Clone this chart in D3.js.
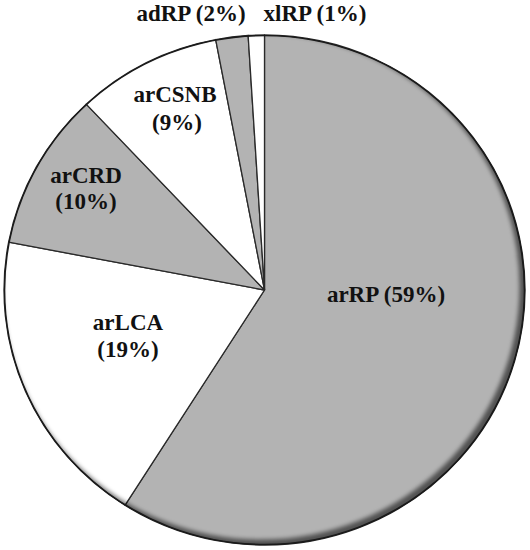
<!DOCTYPE html>
<html><head><meta charset="utf-8">
<script src="https://cdn.jsdelivr.net/npm/d3@7"></script>
<style>body{margin:0;background:#fff}svg{display:block}</style>
</head><body>
<svg id="c" width="530" height="550"></svg>
<script>
const categories = ["arRP","arLCA","arCRD","arCSNB","adRP","xlRP"];
const values = [59,19,10,9,2,1];
const fills = ["#b3b3b3","#ffffff","#b3b3b3","#ffffff","#b3b3b3","#ffffff"];

const W=530,H=550, cx=264.5, cy=290, r=260.5, sy=255/260.5;
const svg=d3.select("#c");
const defs=svg.append("defs");
defs.append("clipPath").attr("id","pieclip").append("circle").attr("r",r);
const f=defs.append("filter").attr("id","blur").attr("x","-20%").attr("y","-20%").attr("width","140%").attr("height","140%");
f.append("feGaussianBlur").attr("stdDeviation",2.2);

const pie=d3.pie().sort(null).value(d=>d.v);
const arcs=pie(categories.map((c,i)=>({c,v:values[i],f:fills[i]})));
const arc=d3.arc().innerRadius(0).outerRadius(r);
const g=svg.append("g").attr("transform",`translate(${cx},${cy}) scale(1,${sy})`);
g.selectAll("path.s").data(arcs).join("path").attr("class","s")
  .attr("d",arc).attr("fill",d=>d.data.f)
  .attr("stroke","#2a2a2a").attr("stroke-width",1.3).attr("stroke-linejoin","round");
// inner shadow on lower-right edge
const sh=g.append("g").attr("clip-path","url(#pieclip)");
sh.append("path").attr("fill","#000").attr("fill-opacity",0.55).attr("fill-rule","evenodd")
  .attr("filter","url(#blur)")
  .attr("d",`M${-r-40},${-r-40}H${r+40}V${r+40}H${-r-40}Z `+
            `M${-3.5-r+2},${-3.5} a${r-2},${r-2} 0 1,0 ${2*(r-2)},0 a${r-2},${r-2} 0 1,0 ${-2*(r-2)},0Z`);
g.append("circle").attr("r",r-0.6).attr("fill","none").attr("stroke","#1a1a1a").attr("stroke-width",1.4);

// label anchors (pixel), kept separate from data
const labelPos = {
  arRP:[{t:"arRP (59%)",x:386,y:302}],
  arLCA:[{t:"arLCA",x:128,y:330},{t:"(19%)",x:128,y:357}],
  arCRD:[{t:"arCRD",x:86,y:183},{t:"(10%)",x:86,y:209}],
  arCSNB:[{t:"arCSNB",x:175,y:102},{t:"(9%)",x:177,y:130}],
  adRP:[{t:"adRP (2%)",x:191,y:21}],
  xlRP:[{t:"xlRP (1%)",x:315,y:21}]
};
const lab=svg.append("g").style("font-family","'Liberation Serif', 'Times New Roman', serif").attr("font-weight","bold")
  .attr("font-size",23).attr("fill","#111").attr("text-anchor","middle");
arcs.forEach(a=>{
  labelPos[a.data.c].forEach(l=>{
    lab.append("text").attr("x",l.x).attr("y",l.y).text(l.t);
  });
});
</script>
</body></html>
